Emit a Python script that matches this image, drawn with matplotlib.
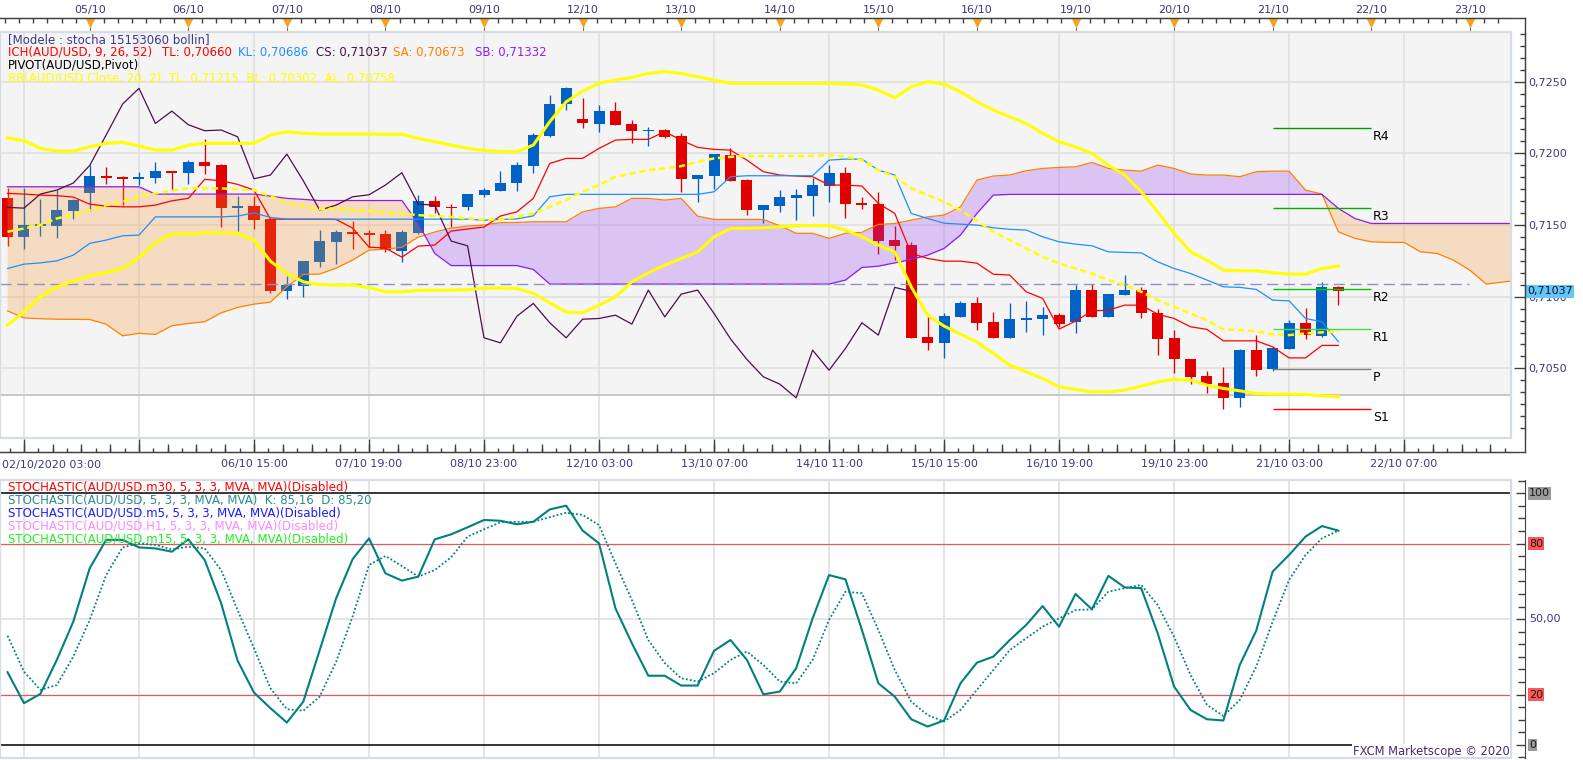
import matplotlib.pyplot as plt
import numpy as np
from matplotlib.lines import Line2D
from matplotlib.patches import Rectangle
from matplotlib.ticker import FixedLocator, MultipleLocator, FuncFormatter

plt.rcParams['font.family'] = ['DejaVu Sans']
plt.rcParams['font.size'] = 8

# ---- AUD/USD H4 candles ----
opens = [0.71690, 0.71418, 0.71493, 0.71495, 0.71599, 0.71725, 0.71842, 0.71832, 0.71819, 0.71828,
         0.71876, 0.71865, 0.71941, 0.71918, 0.71616, 0.71632, 0.71541, 0.71041, 0.71076, 0.71243,
         0.71383, 0.71453, 0.71444, 0.71437, 0.71318, 0.71446, 0.71667, 0.71627, 0.71623, 0.71709,
         0.71739, 0.71791, 0.71913, 0.72121, 0.72342, 0.72237, 0.72207, 0.72295, 0.72202, 0.72158,
         0.72163, 0.72121, 0.71823, 0.71842, 0.71988, 0.71814, 0.71604, 0.71634, 0.71690, 0.71702,
         0.71774, 0.71860, 0.71651, 0.71646, 0.71395, 0.71358, 0.70716, 0.70678, 0.70859, 0.70953,
         0.70822, 0.70713, 0.70839, 0.70843, 0.70871, 0.70825, 0.71046, 0.70859, 0.71013, 0.71046,
         0.70883, 0.70709, 0.70562, 0.70446, 0.70395, 0.70294, 0.70627, 0.70492, 0.70636, 0.70818,
         0.70725, 0.71065]
highs = [0.71756, 0.71756, 0.71681, 0.71744, 0.71681, 0.71918, 0.71902, 0.71842, 0.71872, 0.71941,
         0.71880, 0.71953, 0.72100, 0.71925, 0.71702, 0.71702, 0.71545, 0.71144, 0.71250, 0.71465,
         0.71465, 0.71527, 0.71465, 0.71465, 0.71465, 0.71709, 0.71702, 0.71646, 0.71716, 0.71760,
         0.71876, 0.71941, 0.72144, 0.72407, 0.72460, 0.72384, 0.72337, 0.72358, 0.72232, 0.72186,
         0.72170, 0.72140, 0.71849, 0.71995, 0.72035, 0.71818, 0.71639, 0.71744, 0.71751, 0.71825,
         0.71918, 0.71906, 0.71697, 0.71728, 0.71495, 0.71383, 0.70871, 0.70883, 0.70971, 0.70995,
         0.70892, 0.70953, 0.70969, 0.70929, 0.70883, 0.71081, 0.71088, 0.71018, 0.71151, 0.71065,
         0.70911, 0.70767, 0.70565, 0.70483, 0.70510, 0.70632, 0.70732, 0.70650, 0.70836, 0.70918,
         0.71104, 0.71074]
lows = [0.71355, 0.71330, 0.71425, 0.71411, 0.71539, 0.71599, 0.71786, 0.71639, 0.71779, 0.71795,
        0.71744, 0.71784, 0.71856, 0.71488, 0.71460, 0.71470, 0.71023, 0.70981, 0.70999, 0.71204,
        0.71225, 0.71332, 0.71344, 0.71313, 0.71243, 0.71440, 0.71581, 0.71483, 0.71604, 0.71697,
        0.71735, 0.71739, 0.71860, 0.72115, 0.72302, 0.72175, 0.72151, 0.72195, 0.72070, 0.72053,
        0.72109, 0.71732, 0.71662, 0.71749, 0.71805, 0.71569, 0.71515, 0.71592, 0.71534, 0.71562,
        0.71662, 0.71551, 0.71611, 0.71297, 0.71255, 0.70710, 0.70627, 0.70573, 0.70855, 0.70771,
        0.70710, 0.70710, 0.70755, 0.70732, 0.70790, 0.70744, 0.70855, 0.70855, 0.71010, 0.70848,
        0.70592, 0.70469, 0.70390, 0.70329, 0.70217, 0.70227, 0.70450, 0.70483, 0.70632, 0.70706,
        0.70722, 0.70941]
closes = [0.71418, 0.71500, 0.71504, 0.71604, 0.71674, 0.71842, 0.71830, 0.71819, 0.71835, 0.71876,
          0.71865, 0.71941, 0.71913, 0.71616, 0.71632, 0.71534, 0.71039, 0.71081, 0.71248, 0.71388,
          0.71451, 0.71439, 0.71432, 0.71325, 0.71451, 0.71667, 0.71623, 0.71618, 0.71716, 0.71744,
          0.71793, 0.71916, 0.72128, 0.72344, 0.72454, 0.72209, 0.72295, 0.72200, 0.72158, 0.72163,
          0.72116, 0.71823, 0.71849, 0.71995, 0.71809, 0.71604, 0.71639, 0.71697, 0.71711, 0.71779,
          0.71865, 0.71646, 0.71639, 0.71388, 0.71355, 0.70713, 0.70678, 0.70864, 0.70953, 0.70818,
          0.70713, 0.70843, 0.70848, 0.70871, 0.70809, 0.71046, 0.70859, 0.71018, 0.71046, 0.70883,
          0.70706, 0.70562, 0.70441, 0.70390, 0.70294, 0.70627, 0.70487, 0.70639, 0.70818, 0.70732,
          0.71065, 0.71037]

# ---- Ichimoku ----
tenkan = [0.71721, 0.71716, 0.71709, 0.71705, 0.71695, 0.71646, 0.71632, 0.71627, 0.71627, 0.71639,
          0.71669, 0.71686, 0.71819, 0.71809, 0.71784, 0.71744, 0.71541, 0.71541, 0.71541, 0.71541,
          0.71539, 0.71479, 0.71346, 0.71339, 0.71276, 0.71353, 0.71360, 0.71458, 0.71472, 0.71486,
          0.71563, 0.71592, 0.71686, 0.71930, 0.71965, 0.71965, 0.72035, 0.72093, 0.72098, 0.72098,
          0.72151, 0.72093, 0.72042, 0.72028, 0.72023, 0.71953, 0.71872, 0.71849, 0.71842, 0.71837,
          0.71779, 0.71779, 0.71772, 0.71651, 0.71581, 0.71302, 0.71267, 0.71248, 0.71248, 0.71234,
          0.71157, 0.71151, 0.71034, 0.70988, 0.70774, 0.70829, 0.70901, 0.70906, 0.70941, 0.70941,
          0.70878, 0.70848, 0.70790, 0.70772, 0.70692, 0.70692, 0.70692, 0.70650, 0.70573, 0.70573,
          0.70660, 0.70660]
kijun = [0.71197, 0.71227, 0.71236, 0.71250, 0.71290, 0.71372, 0.71395, 0.71425, 0.71430, 0.71557,
         0.71557, 0.71557, 0.71557, 0.71557, 0.71562, 0.71585, 0.71553, 0.71541, 0.71541, 0.71541,
         0.71541, 0.71541, 0.71541, 0.71541, 0.71541, 0.71541, 0.71541, 0.71541, 0.71541, 0.71534,
         0.71539, 0.71543, 0.71564, 0.71697, 0.71714, 0.71714, 0.71714, 0.71714, 0.71714, 0.71714,
         0.71714, 0.71714, 0.71714, 0.71732, 0.71837, 0.71844, 0.71844, 0.71844, 0.71844, 0.71844,
         0.71953, 0.71960, 0.71960, 0.71883, 0.71849, 0.71581, 0.71546, 0.71513, 0.71506, 0.71500,
         0.71481, 0.71470, 0.71465, 0.71418, 0.71383, 0.71367, 0.71355, 0.71313, 0.71309, 0.71306,
         0.71243, 0.71197, 0.71162, 0.71116, 0.71069, 0.71065, 0.71051, 0.70976, 0.70971, 0.70848,
         0.70825, 0.70686]
senkou_a = [0.70901, 0.70852, 0.70846, 0.70843, 0.70842, 0.70841, 0.70808, 0.70727, 0.70744, 0.70737,
            0.70797, 0.70813, 0.70825, 0.70887, 0.70925, 0.70948, 0.70962, 0.71069, 0.71155, 0.71158,
            0.71199, 0.71255, 0.71325, 0.71332, 0.71344, 0.71416, 0.71451, 0.71479, 0.71493, 0.71500,
            0.71517, 0.71518, 0.71523, 0.71523, 0.71523, 0.71592, 0.71616, 0.71627, 0.71686, 0.71686,
            0.71674, 0.71686, 0.71562, 0.71539, 0.71539, 0.71539, 0.71539, 0.71495, 0.71442, 0.71442,
            0.71407, 0.71442, 0.71449, 0.71504, 0.71511, 0.71534, 0.71557, 0.71569, 0.71627, 0.71814,
            0.71842, 0.71849, 0.71879, 0.71895, 0.71902, 0.71906, 0.71937, 0.71895, 0.71883, 0.71876,
            0.71918, 0.71895, 0.71856, 0.71849, 0.71849, 0.71837, 0.71872, 0.71876, 0.71876, 0.71744,
            0.71716, 0.71453, 0.71407, 0.71383, 0.71379, 0.71379, 0.71313, 0.71302, 0.71255, 0.71185,
            0.71088, 0.71102, 0.71116]
senkou_b = [0.71767, 0.71767, 0.71767, 0.71767, 0.71767, 0.71767, 0.71767, 0.71767, 0.71767, 0.71716,
            0.71716, 0.71716, 0.71716, 0.71716, 0.71716, 0.71716, 0.71702, 0.71686, 0.71679, 0.71671,
            0.71671, 0.71671, 0.71671, 0.71671, 0.71671, 0.71511, 0.71302, 0.71217, 0.71217, 0.71217,
            0.71217, 0.71217, 0.71190, 0.71088, 0.71088, 0.71088, 0.71088, 0.71088, 0.71088, 0.71088,
            0.71088, 0.71088, 0.71088, 0.71088, 0.71088, 0.71088, 0.71088, 0.71088, 0.71088, 0.71088,
            0.71088, 0.71116, 0.71204, 0.71213, 0.71236, 0.71260, 0.71290, 0.71337, 0.71430, 0.71581,
            0.71709, 0.71714, 0.71714, 0.71714, 0.71714, 0.71714, 0.71714, 0.71714, 0.71714, 0.71714,
            0.71714, 0.71714, 0.71714, 0.71714, 0.71714, 0.71714, 0.71714, 0.71714, 0.71714, 0.71714,
            0.71714, 0.71616, 0.71546, 0.71511, 0.71511, 0.71511, 0.71511, 0.71511, 0.71511, 0.71511,
            0.71511, 0.71511, 0.71511]
chikou_shift = 26

# ---- Bollinger (20, 2) ----
bb_upper = [0.72109, 0.72088, 0.72035, 0.72016, 0.72016, 0.72046, 0.72070, 0.72077, 0.72053, 0.72023,
            0.72023, 0.72058, 0.72070, 0.72070, 0.72070, 0.72070, 0.72128, 0.72151, 0.72140, 0.72135,
            0.72135, 0.72135, 0.72135, 0.72133, 0.72133, 0.72105, 0.72081, 0.72058, 0.72035, 0.72020,
            0.72013, 0.72011, 0.72058, 0.72221, 0.72360, 0.72435, 0.72489, 0.72512, 0.72530, 0.72558,
            0.72570, 0.72558, 0.72535, 0.72512, 0.72489, 0.72489, 0.72489, 0.72489, 0.72489, 0.72489,
            0.72489, 0.72484, 0.72477, 0.72442, 0.72388, 0.72465, 0.72500, 0.72484, 0.72430, 0.72360,
            0.72302, 0.72255, 0.72209, 0.72140, 0.72081, 0.72046, 0.72000, 0.71918, 0.71849, 0.71732,
            0.71592, 0.71442, 0.71313, 0.71255, 0.71185, 0.71181, 0.71181, 0.71167, 0.71158, 0.71158,
            0.71197, 0.71215]
bb_lower = [0.70802, 0.70894, 0.70999, 0.71069, 0.71109, 0.71147, 0.71168, 0.71197, 0.71273, 0.71377,
            0.71437, 0.71437, 0.71446, 0.71446, 0.71442, 0.71395, 0.71248, 0.71162, 0.71104, 0.71084,
            0.71081, 0.71081, 0.71063, 0.71034, 0.71034, 0.71044, 0.71046, 0.71046, 0.71049, 0.71060,
            0.71060, 0.71058, 0.71023, 0.70957, 0.70894, 0.70887, 0.70941, 0.70999, 0.71104, 0.71167,
            0.71220, 0.71267, 0.71313, 0.71418, 0.71476, 0.71476, 0.71481, 0.71488, 0.71495, 0.71495,
            0.71495, 0.71465, 0.71418, 0.71360, 0.71313, 0.71069, 0.70871, 0.70795, 0.70739, 0.70683,
            0.70604, 0.70522, 0.70476, 0.70429, 0.70371, 0.70353, 0.70336, 0.70336, 0.70348, 0.70376,
            0.70406, 0.70423, 0.70418, 0.70383, 0.70360, 0.70343, 0.70325, 0.70320, 0.70320, 0.70318,
            0.70308, 0.70302]
bb_mid = [0.71453, 0.71476, 0.71500, 0.71546, 0.71569, 0.71604, 0.71639, 0.71662, 0.71702, 0.71721,
          0.71739, 0.71756, 0.71756, 0.71756, 0.71749, 0.71744, 0.71702, 0.71655, 0.71627, 0.71611,
          0.71616, 0.71604, 0.71599, 0.71585, 0.71581, 0.71569, 0.71562, 0.71557, 0.71546, 0.71538,
          0.71538, 0.71557, 0.71581, 0.71627, 0.71674, 0.71732, 0.71779, 0.71837, 0.71860, 0.71883,
          0.71895, 0.71911, 0.71941, 0.71965, 0.71976, 0.71981, 0.71981, 0.71981, 0.71981, 0.71983,
          0.71988, 0.71976, 0.71953, 0.71883, 0.71837, 0.71756, 0.71709, 0.71662, 0.71604, 0.71531,
          0.71453, 0.71395, 0.71337, 0.71278, 0.71232, 0.71197, 0.71162, 0.71116, 0.71081, 0.71034,
          0.70976, 0.70929, 0.70883, 0.70836, 0.70772, 0.70767, 0.70760, 0.70737, 0.70732, 0.70744,
          0.70751, 0.70758]

# ---- pivots ----
pivot_names = ['R4', 'R3', 'R2', 'R1', 'P', 'S1']
pivot_levels = [0.72175, 0.71617, 0.71051, 0.70772, 0.70495, 0.70214]
pivot_colors = ['#009a00', '#00ae00', '#00c800', '#44dd44', '#808080', '#ff0000']
pivot_from, pivot_to = 77, 83
dash_level, dash_to = 0.71088, 88.95
band_low = 0.70314
last_price = 0.71037

# ---- stochastic (5,3,3) ----
stoch_k = [28.9, 16.6, 20.3, 33.8, 49.0, 70.2, 81.5, 81.5, 78.5, 78.1,
           76.8, 81.7, 73.5, 56.3, 33.5, 20.8, 14.6, 8.9, 17.2, 37.7,
           58.3, 73.8, 82.1, 68.2, 65.3, 66.9, 81.7, 83.7, 86.5, 89.4,
           89.1, 87.7, 88.7, 93.6, 95.1, 85.2, 80.1, 54.3, 40.4, 27.5,
           27.5, 23.6, 23.6, 37.4, 41.7, 33.8, 20.1, 21.2, 30.5, 50.3,
           67.5, 65.8, 45.7, 24.5, 19.2, 10.2, 7.3, 9.7, 24.5, 32.7,
           35.1, 41.7, 47.7, 55.2, 47.0, 60.0, 53.9, 67.2, 62.6, 62.3,
           44.4, 23.2, 13.9, 10.2, 9.7, 31.8, 45.4, 68.9, 75.5, 82.8,
           87.0, 85.16]
stoch_d = [43.4, 29.1, 21.9, 23.8, 35.1, 49.7, 67.5, 78.5, 80.1, 79.5,
           77.7, 78.8, 78.1, 69.5, 53.6, 38.4, 22.5, 14.2, 13.6, 19.2,
           33.1, 51.0, 71.5, 75.1, 71.1, 66.9, 69.5, 74.6, 82.8, 85.7,
           88.5, 88.7, 88.7, 90.5, 92.3, 91.4, 87.4, 72.2, 57.6, 41.7,
           32.5, 26.5, 25.2, 28.5, 33.8, 37.1, 31.8, 25.2, 24.5, 33.8,
           49.7, 60.9, 60.3, 45.7, 29.8, 17.2, 11.9, 9.3, 13.9, 21.9,
           29.8, 37.7, 42.4, 47.0, 50.3, 53.6, 53.9, 60.9, 62.3, 63.6,
           55.6, 43.0, 27.8, 15.9, 11.5, 17.9, 31.1, 49.0, 65.6, 75.5,
           82.1, 85.2]

# ---- axis labels ----
bottom_ticks = list(range(1, 92, 7))
bottom_labels = ['', '', '06/10 15:00', '07/10 19:00', '08/10 23:00', '12/10 03:00', '13/10 07:00',
                 '14/10 11:00', '15/10 15:00', '16/10 19:00', '19/10 23:00', '21/10 03:00', '22/10 07:00']
day_ticks = list(range(5, 92, 6))
day_labels = ['05/10', '06/10', '07/10', '08/10', '09/10', '12/10', '13/10', '14/10',
              '15/10', '16/10', '19/10', '20/10', '21/10', '22/10', '23/10']

W, H = 1583, 760
fig = plt.figure(figsize=(W / 100, H / 100), dpi=100)


def box(x0, y0, x1, y1):
    return [x0 / W, 1 - y1 / H, (x1 - x0) / W, (y1 - y0) / H]


TXT = '#3a3a7a'
AXC = '#404040'
xlim = (-7.55 / 16.43, (1511 - 7.55) / 16.43)

ax = fig.add_axes(box(0, 32, 1511, 438))
ax2 = fig.add_axes(box(0, 480, 1511, 758))

# ================= price panel =================
ax.set_xlim(xlim)
ax.set_ylim(0.70014, 0.72847)
ax.set_facecolor('white')
ax.set_axisbelow(True)
ax.axhspan(band_low, 0.72847, color='#f4f4f4', lw=0, zorder=0)
ax.axhline(band_low, color='#c4c4c4', lw=1.3, zorder=0.6)

idx = np.arange(len(closes))
o, h, l, c = map(np.array, (opens, highs, lows, closes))
col = np.where(c >= o, '#0062c4', '#e00000')
ax.vlines(idx, l, h, colors=col, lw=0.95, zorder=2)
ax.bar(idx, np.maximum(np.abs(c - o), 0.00004), width=0.67, bottom=np.minimum(o, c),
       color=col, lw=0, zorder=2.1)

xc = np.arange(len(senkou_a))
sa = np.array(senkou_a)
sb = np.array(senkou_b)
ax.fill_between(xc, sa, sb, where=sa >= sb, interpolate=True,
                color=(148 / 255, 52 / 255, 244 / 255), alpha=0.25, lw=0, zorder=3)
ax.fill_between(xc, sa, sb, where=sa < sb, interpolate=True,
                color=(248 / 255, 148 / 255, 44 / 255), alpha=0.25, lw=0, zorder=3)
ax.plot(xc, sa, color='#ff8000', lw=0.9, zorder=4)
ax.plot(xc, sb, color='#8c1cf0', lw=0.9, zorder=4)
ax.plot(idx, tenkan, color='#ff0000', lw=0.9, zorder=4)
ax.plot(idx, kijun, color='#1e8fff', lw=0.9, zorder=4)
chikou = closes[chikou_shift:]
ax.plot(idx[:len(chikou)], chikou, color='#4e0d4e', lw=0.9, zorder=4)

ax.plot([xlim[0], dash_to], [dash_level, dash_level], color='#8a94c4', lw=1.0,
        dashes=(8, 4), zorder=4.5)

ax.plot(idx, bb_upper, color='#ffff00', lw=2.2, zorder=5)
ax.plot(idx, bb_lower, color='#ffff00', lw=2.2, zorder=5)
ax.plot(idx, bb_mid, color='#ffff00', lw=1.8, dashes=(2.5, 1.5), zorder=5)

ax.hlines(pivot_levels, pivot_from, pivot_to, colors=pivot_colors, lw=1.0, zorder=5)
for name, lv in zip(pivot_names, pivot_levels):
    ax.annotate(name, (pivot_to, lv), xytext=(1.2, -6), textcoords='offset points',
                ha='left', va='center', fontsize=9, color='black', zorder=6)

# grid + axes
ax.xaxis.set_major_locator(FixedLocator(bottom_ticks))
ax.grid(True, which='major', color='#dedede', lw=1.1)
ax.yaxis.tick_right()
ax.yaxis.set_major_locator(MultipleLocator(0.005))
ax.yaxis.set_minor_locator(MultipleLocator(0.005 / 6))
ax.yaxis.set_major_formatter(FuncFormatter(lambda v, p: f'{v:.4f}'.replace('.', ',')))
for s in ['left', 'top']:
    ax.spines[s].set_visible(False)
for s in ['right', 'bottom']:
    ax.spines[s].set_position(('outward', 10.08))
    ax.spines[s].set_color(AXC)
ax.tick_params(axis='y', which='major', direction='in', length=8, width=1, color=AXC,
               pad=2.2, labelsize=8, labelcolor=TXT)
ax.tick_params(axis='y', which='minor', direction='in', length=3.6, width=1, color=AXC)
ax.set_xticks(bottom_ticks, labels=bottom_labels)
eighths = np.arange(bottom_ticks[0] - 7, 92, 7 / 8)
ax.xaxis.set_minor_locator(FixedLocator(eighths))
ax.tick_params(axis='x', which='major', direction='in', length=9.4, width=1, color=AXC,
               pad=5, labelsize=8, labelcolor=TXT)
ax.tick_params(axis='x', which='minor', direction='in', length=3, width=1, color=AXC)

quarters = np.arange(bottom_ticks[0] - 7, 92, 7 / 4)
sec = ax.secondary_xaxis(-14 / 406)
sec.set_xticks(quarters, labels=[''] * len(quarters))
sec.tick_params(direction='in', length=5.5, width=1, color=AXC)
sec.spines['bottom'].set_visible(False)

top = ax.secondary_xaxis(420 / 406)
top.set_xticks(day_ticks, labels=day_labels)
top.xaxis.set_minor_locator(FixedLocator(np.arange(day_ticks[0] - 6, 92, 6 / 7)))
top.tick_params(which='major', direction='in', length=10, width=0.8, color='#707070',
                pad=2, labelsize=8, labelcolor=TXT)
top.tick_params(which='minor', direction='in', length=3.6, width=1, color=AXC)
top.spines['top'].set_color(AXC)
ax.scatter(day_ticks, [1.0225] * len(day_ticks), transform=ax.get_xaxis_transform(),
           marker='v', s=46, color='#f6a21e', lw=0, clip_on=False, zorder=10)

ax.text(1527 / 1511, last_price, '0,71037', transform=ax.get_yaxis_transform(),
        ha='left', va='center', fontsize=8, color='#101030', zorder=20, clip_on=False,
        bbox=dict(boxstyle='square,pad=0.15', fc='#62c6f8', ec='none'))
ax.add_patch(Rectangle((0, 0), 1, 1, transform=ax.transAxes, fill=False, ec='#d5dce6',
                       lw=1.6, clip_on=False, zorder=11))

# ================= stochastic panel =================
ax2.set_xlim(xlim)
ax2.set_ylim(-5.2, 105.3)
ax2.set_facecolor('white')
ax2.set_axisbelow(True)
ax2.xaxis.set_major_locator(FixedLocator(bottom_ticks))
ax2.grid(True, which='major', axis='x', color='#dedede', lw=1.1)
ax2.axhline(50, color='#dedede', lw=1.1, zorder=0.5)
ax2.axhline(100, color='black', lw=1.1, zorder=2)
ax2.axhline(0, color='black', lw=1.1, zorder=2)
ax2.axhline(80, color='#ee5555', lw=0.9, zorder=2)
ax2.axhline(20, color='#ee5555', lw=0.9, zorder=2)
ax2.plot(idx, stoch_k, color='#008080', lw=1.5, zorder=4)
ax2.plot(idx, stoch_d, color='#008080', lw=1.3, ls=(0, (1, 1.2)), zorder=4)

ax2.yaxis.tick_right()
ax2.set_yticks([0, 20, 50, 80, 100])
ax2.yaxis.set_minor_locator(MultipleLocator(5))
for s in ['left', 'top', 'bottom']:
    ax2.spines[s].set_visible(False)
ax2.spines['right'].set_position(('outward', 10.08))
ax2.spines['right'].set_color(AXC)
ax2.tick_params(axis='y', which='major', direction='in', length=6.5, width=1, color=AXC,
                labelright=False)
ax2.tick_params(axis='y', which='minor', direction='in', length=5, width=1, color=AXC)
ax2.tick_params(axis='x', length=0, labelbottom=False)

ytr = ax2.get_yaxis_transform()
for v, s, fc in [(100, '100', '#9b9b9b'), (80, '80', '#ff5757'), (50, '50,00', None),
                 (20, '20', '#ff5757'), (0, '0', '#9b9b9b')]:
    kw = dict(boxstyle='square,pad=0.12', fc=fc, ec='none') if fc else None
    ax2.text(1529 / 1511, v, s, transform=ytr, ha='left', va='center', fontsize=8,
             color='#1a1a1a' if fc else TXT, bbox=kw, clip_on=False, zorder=20)

ax2.text(1510 / 1511, 6.3 / 278, 'FXCM Marketscope © 2020', transform=ax2.transAxes,
         ha='right', va='center', fontsize=8.3, color='#4b2a6b', zorder=10,
         bbox=dict(boxstyle='square,pad=0.1', fc='white', ec='none'))
ax2.add_patch(Rectangle((0, 0), 1, 1, transform=ax2.transAxes, fill=False, ec='#d5dce6',
                        lw=1.6, clip_on=False, zorder=11))

# ================= frame lines / legends =================
def fline(xs, ys, **kw):
    fig.add_artist(Line2D([x / W for x in xs], [1 - y / H for y in ys], **kw))


fline([0, 1525], [18, 18], color=AXC, lw=1.0)
fline([1525, 1525], [18, 452], color=AXC, lw=1.0)
fline([0, 1525], [452, 452], color=AXC, lw=1.0)


def ftext(x, y, s, color, size=8.5):
    fig.text(x / W, 1 - y / H, s, ha='left', va='center', fontsize=size, color=color)


ftext(2, 465, '02/10/2020 03:00', TXT, 8)
ftext(8, 39.5, '[Modele : stocha 15153060 bollin]', '#3a3a8c')
ftext(8, 52.3, 'ICH(AUD/USD, 9, 26, 52)', '#ff0000')
ftext(162, 52.3, 'TL: 0,70660', '#ff0000')
ftext(238, 52.3, 'KL: 0,70686', '#1e8fff')
ftext(316, 52.3, 'CS: 0,71037', '#4e0d4e')
ftext(393, 52.3, 'SA: 0,70673', '#ff8000')
ftext(475, 52.3, 'SB: 0,71332', '#9020ff')
ftext(8, 65, 'PIVOT(AUD/USD,Pivot)', 'black')
ftext(8, 78.3, 'BB(AUD/USD.Close, 20, 2)  TL: 0,71215  BL: 0,70302  AL: 0,70758', '#ffff00')

ftext(8, 486.7, 'STOCHASTIC(AUD/USD.m30, 5, 3, 3, MVA, MVA)(Disabled)', '#ff0000')
ftext(8, 500, 'STOCHASTIC(AUD/USD, 5, 3, 3, MVA, MVA)  K: 85,16  D: 85,20', '#2a8c8c')
ftext(8, 513.3, 'STOCHASTIC(AUD/USD.m5, 5, 3, 3, MVA, MVA)(Disabled)', '#1a1aff')
ftext(8, 526.3, 'STOCHASTIC(AUD/USD.H1, 5, 3, 3, MVA, MVA)(Disabled)', '#ff88ff')
ftext(8, 539.3, 'STOCHASTIC(AUD/USD.m15, 5, 3, 3, MVA, MVA)(Disabled)', '#22ee22')

plt.savefig('out.png', dpi=100)
